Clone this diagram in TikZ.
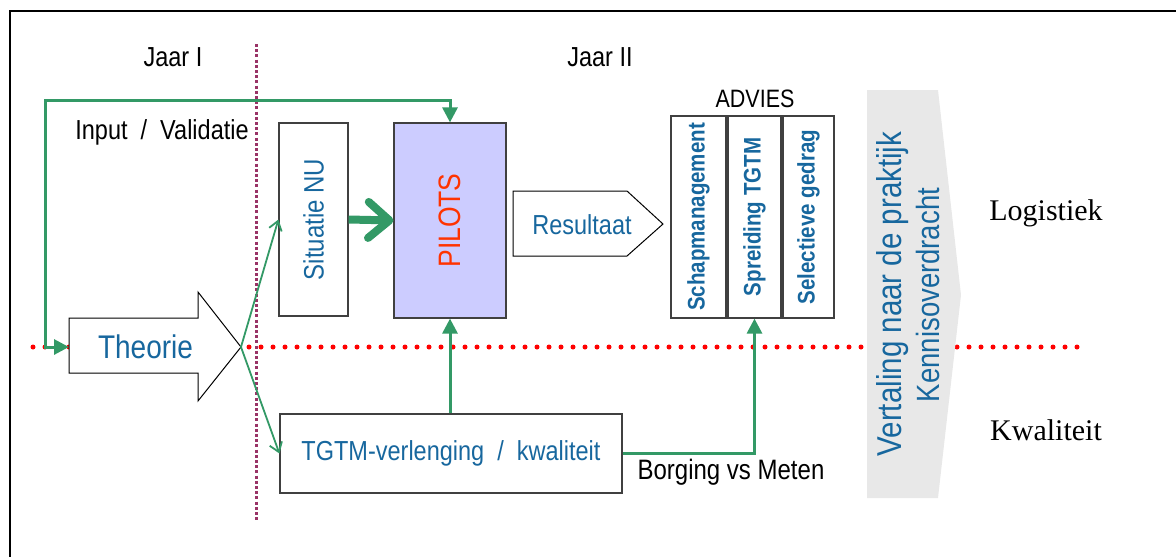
\documentclass[tikz,border=0pt]{standalone}
\usepackage{fontspec}
\setmainfont{Liberation Sans}
\newfontfamily\garafont{Liberation Serif}
\usetikzlibrary{arrows.meta}
\definecolor{tblue}{RGB}{23,103,158}
\definecolor{tgreen}{RGB}{51,153,102}
\definecolor{tred}{RGB}{255,51,0}
\definecolor{tplum}{RGB}{153,51,102}
\definecolor{tlav}{RGB}{204,204,255}
\definecolor{tgray}{RGB}{232,232,232}
\definecolor{tedge}{RGB}{64,64,64}
\newcommand{\fsz}[2]{\fontsize{#1}{#2}\selectfont}
\newcommand{\tall}[1]{\scalebox{1}[1.17]{#1}}
\tikzset{
  box/.style={draw=tedge, line width=1.2pt, fill=white, inner sep=0pt},
  gline/.style={draw=tgreen, line width=3pt},
  gthin/.style={draw=tgreen, line width=1.8pt},
  bluetxt/.style={text=tblue, inner sep=0pt},
  lbl/.style={text=black, inner sep=0pt, font=\fsz{23.5}{28}},
  shapeline/.style={draw=black, line width=1pt, fill=white},
  tri/.tip={Triangle[length=15pt,width=15pt]},
  barb/.tip={Straight Barb[length=9pt,width=13pt]}
}
\begin{document}
\begin{tikzpicture}[x=1pt,y=-1pt]
\useasboundingbox (0,0) rectangle (1176,557);
% frame
\draw[line width=2pt] (10,560) -- (10,11) -- (1180,11);
% purple divider
\draw[tplum, line width=3pt, dash pattern=on 3pt off 2.2pt] (256,44) -- (256,520);
% red dotted horizon
\draw[red, line width=5pt, line cap=round, dash pattern=on 0pt off 12pt] (33,347) -- (1082,347);
% headings
\node[lbl] (jaar1) at (173,57) {\tall{Jaar I}};
\node[lbl] (jaar2) at (600,57) {\tall{Jaar II}};
\node[lbl] (input) at (162,132) {\tall{Input~ /~ Validatie}};
\node[lbl, font=\fsz{21.5}{26}] (advies) at (755,99) {\tall{ADVIES}};
\node[lbl, font=\fsz{24}{28}] (borging) at (731,472) {\tall{Borging vs Meten}};
\node[lbl, font=\garafont\fsz{30}{34}] (logis) at (1046,213) {Logistiek};
\node[lbl, font=\garafont\fsz{30}{34}] (kwal) at (1046,430) {Kwaliteit};
% Theorie arrow
\draw[shapeline] (69,318) -- (198,318) -- (198,292) -- (241,347) -- (198,401) -- (198,373) -- (69,373) -- cycle;
\coordinate (thtip) at (241,347);
\coordinate (thleft) at (69,347);
\node[bluetxt, font=\fsz{28}{32}] (theo) at (145.5,347) {\tall{Theorie}};
% boxes
\node[box, minimum width=69pt, minimum height=193pt] (sit) at (313.5,219.5) {};
\node[bluetxt, rotate=90, font=\fsz{24}{28}] at (sit.center) {\tall{Situatie NU}};
\node[box, fill=tlav, minimum width=112pt, minimum height=195pt] (pil) at (450,220.5) {};
\node[text=tred, inner sep=0pt, rotate=90, font=\fsz{26.5}{30}] at (pil.center) {\tall{PILOTS}};
\node[box, minimum width=342pt, minimum height=79pt] (tgtm) at (451,453.5) {};
\node[bluetxt, font=\fsz{23.5}{28}] at (tgtm.center) {\tall{TGTM-verlenging~ /~ kwaliteit}};
\node[box, minimum width=55pt, minimum height=202pt] (b1) at (698.5,217) {};
\node[box, minimum width=53pt, minimum height=202pt] (b2) at (754.5,217) {};
\node[box, minimum width=51pt, minimum height=202pt] (b3) at (808.5,217) {};
\node[bluetxt, rotate=90, font=\bfseries\fsz{20.5}{24}] at (b1.center) {\tall{Schapmanagement}};
\node[bluetxt, rotate=90, font=\bfseries\fsz{20.5}{24}] at (b2.center) {\tall{Spreiding TGTM}};
\node[bluetxt, rotate=90, font=\bfseries\fsz{20.5}{24}] at (b3.center) {\tall{Selectieve gedrag}};
% Resultaat
\draw[shapeline] (513,191) -- (627,191) -- (663,224) -- (627,256) -- (513,256) -- cycle;
\node[bluetxt, font=\fsz{23.5}{28}] (res) at (582,225) {\tall{Resultaat}};
% gray arrow
\fill[tgray] (867,90) -- (938,90) -- (961,295) -- (938,498) -- (867,498) -- cycle;
\node[bluetxt, rotate=90, font=\fsz{29.5}{35}] (vert1) at (893,294) {\tall{Vertaling naar de praktijk}};
\node[bluetxt, rotate=90, font=\fsz{27.5}{35}] (vert2) at (928,295) {\tall{Kennisoverdracht}};
% connectors
\coordinate (cA) at (45,347);
\coordinate (cB) at (45,100);
\draw[gline, tri-tri] (thleft) -- (cA) -- (cB) -| (pil.north);
\draw[gthin, -barb] (thtip) -- (sit.west);
\draw[gthin, -barb] (thtip) -- (tgtm.west);
\draw[draw=tgreen, line width=8pt, -{Straight Barb[length=21pt,width=36pt,round]}] (sit.east) -- (pil.west);
\draw[gline, -tri] (tgtm.north -| pil.south) -- (pil.south);
\draw[gline, -tri] (tgtm.east) -| (b2.south);
\end{tikzpicture}
\end{document}
